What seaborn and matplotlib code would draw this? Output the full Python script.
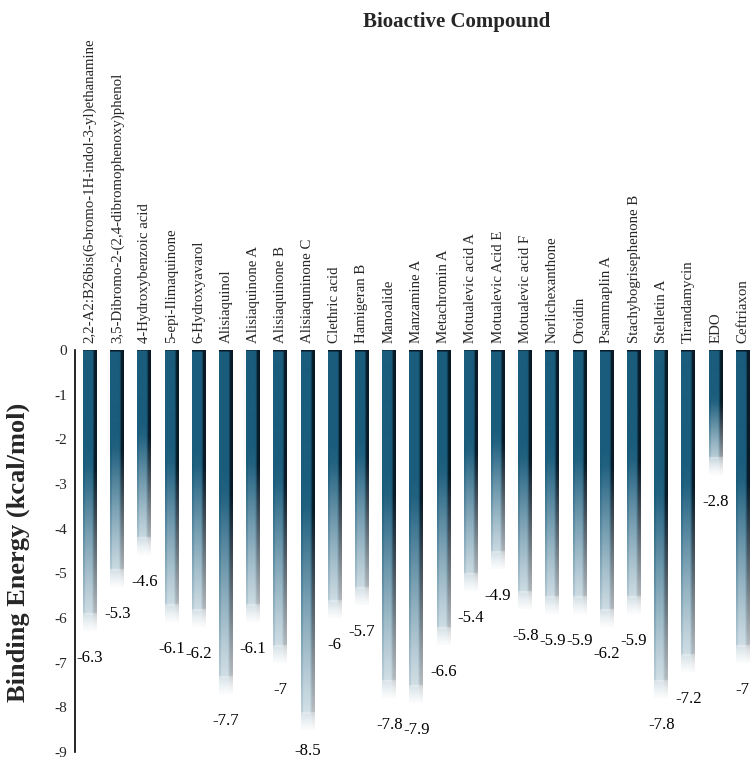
import numpy as np
import pandas as pd
import matplotlib
matplotlib.use("Agg")
import matplotlib.pyplot as plt
import seaborn as sns

compounds = [
    "2,2-A2:B26bis(6-bromo-1H-indol-3-yl)ethanamine",
    "3,5-Dibromo-2-(2,4-dibromophenoxy)phenol",
    "4-Hydroxybenzoic acid",
    "5-epi-Ilimaquinone",
    "6-Hydroxyavarol",
    "Alisiaquinol",
    "Alisiaquinone A",
    "Alisiaquinone B",
    "Alisiaquninone C",
    "Clethric acid",
    "Hamigeran B",
    "Manoalide",
    "Manzamine A",
    "Metachromin A",
    "Motualevic acid A",
    "Motualevic Acid E",
    "Motualevic acid F",
    "Norlichexanthone",
    "Oroidin",
    "Psammaplin A",
    "Stachybogrisephenone B",
    "Stelletin A",
    "Tirandamycin",
    "EDO",
    "Ceftriaxon",
]
binding_energy = [-6.3, -5.3, -4.6, -6.1, -6.2, -7.7, -6.1, -7.0, -8.5, -6.0,
                  -5.7, -7.8, -7.9, -6.6, -5.4, -4.9, -5.8, -5.9, -5.9, -6.2,
                  -5.9, -7.8, -7.2, -2.8, -7.0]
y_ticks = list(range(0, -10, -1))

df = pd.DataFrame({"compound": compounds, "energy": binding_energy})

sns.set_style("white")
plt.rcParams["font.family"] = ["Liberation Serif", "DejaVu Serif"]
plt.rcParams["axes.unicode_minus"] = False

W, H = 751, 759
fig = plt.figure(figsize=(W / 100, H / 100), dpi=100)
ax = fig.add_axes([75 / W, 1 - 752 / H, (W - 75) / W, (752 - 350) / H])

BAR_W = 0.51
sns.barplot(data=df, x="compound", y="energy", color="#1a5c7c",
            width=BAR_W, ax=ax, zorder=2)

base = np.array([26, 92, 124]) / 255.0
dark = np.array([8, 26, 40]) / 255.0
white = np.ones(3)
px_per_unit = 402 / 9.0

# gradient fill for every bar, clipped to the bar's own rectangle
for i, patch in enumerate(ax.containers[0]):
    v = binding_energy[i]
    L = abs(v) * px_per_unit
    rows = max(int(round(L * 2)), 4)
    cols = 28
    p = (np.arange(rows) + 0.5) / rows * L          # pixels from top
    u = (np.arange(cols) + 0.5) / cols
    P, U = np.meshgrid(p, u, indexing="ij")
    T = P / L

    # white mix for the body, growing along the lower half
    wmix = np.clip((T - 0.42) / 0.58, 0, 1) ** 1.1 * 0.78
    # lighter inner highlight strip
    inner = (U > 0.14) & (U < 0.68)
    hl_end = L - 16
    wmix = np.where(inner & (P < hl_end),
                    wmix + (1 - wmix) * 0.35 * np.clip((T - 0.35) / 0.65, 0, 1),
                    wmix)
    # tail fading to white
    tail = np.clip((P - (L - 18)) / 18, 0, 1)
    wmix = wmix + (1 - wmix) * (0.35 + 0.6 * tail) * (P > L - 18)
    wmix = np.clip(wmix, 0, 0.98)

    col = base[None, None, :] * np.ones((rows, cols, 1))
    # dark right edge
    col[U > 0.80] = dark
    # slightly darker band next to the edge
    col[(U > 0.70) & (U <= 0.80)] = base * 0.75
    # thin dark top rim
    col[P < 1.5] = dark
    img = col * (1 - wmix[..., None]) + white * wmix[..., None]

    x0 = patch.get_x()
    x1 = x0 + patch.get_width()
    im = ax.imshow(img, extent=(x0, x1, v, 0), aspect="auto",
                   interpolation="bilinear", zorder=3)
    im.set_clip_path(patch)
    patch.set_facecolor("none")
    patch.set_edgecolor("none")

    # value label under the bar end, kept inside the figure
    room = H - (350 + L)
    dy = min(27, room - 8)
    ax.annotate(f"{v:g}", xy=(i, v), xytext=(0, -dy), textcoords="offset pixels",
                ha="center", va="center", fontsize=12, color="black", zorder=4)

ax.set_xlim(-0.55, 24.3)
ax.set_ylim(-9, 0)
ax.set_yticks(y_ticks)
ax.set_yticklabels([f"{y:d}" for y in y_ticks])
ax.tick_params(axis="y", length=0, pad=6, labelsize=11)

ax.xaxis.set_ticks_position("top")
ax.tick_params(axis="x", length=0, pad=5, labelsize=10.7, labelrotation=90,
               top=True, labeltop=True, bottom=False, labelbottom=False)
ax.set_xlabel("")
ax.set_ylabel("")

for side in ["top", "right", "bottom"]:
    ax.spines[side].set_visible(False)
ax.spines["left"].set_color("black")
ax.spines["left"].set_linewidth(1.2)

fig.text(457 / W, 1 - 22 / H, "Bioactive Compound", ha="center", va="center",
         fontsize=15, fontweight="bold")
fig.text(18 / W, 1 - 552 / H, "Binding Energy (kcal/mol)", ha="center",
         va="center", rotation=90, fontsize=19, fontweight="bold")

fig.savefig("out.png", dpi=100)
